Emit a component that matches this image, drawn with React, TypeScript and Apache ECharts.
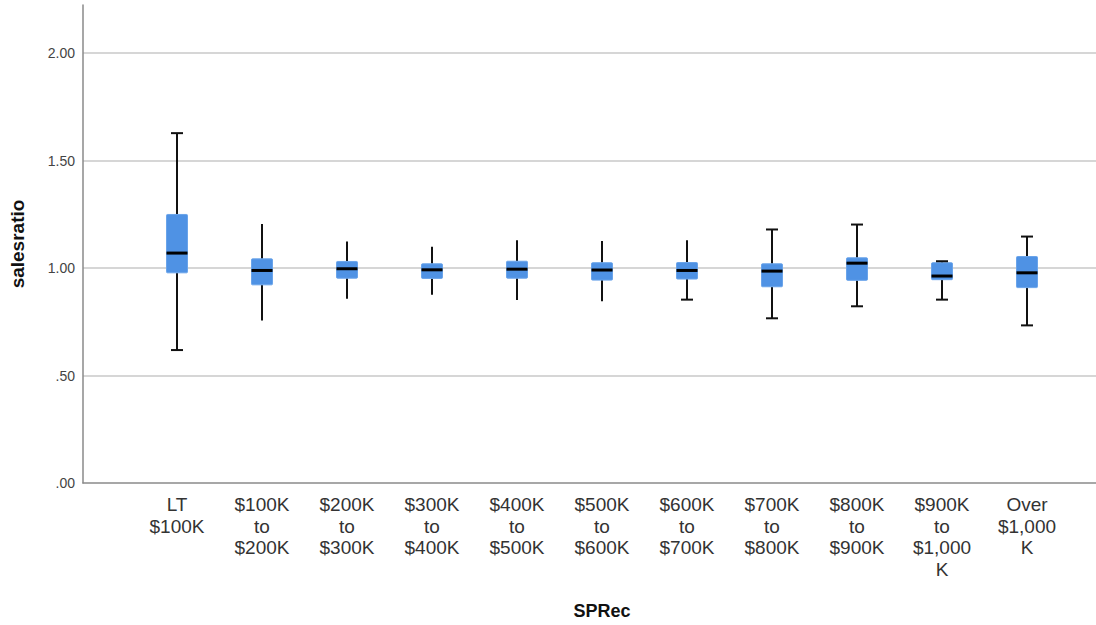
import React, { useEffect, useRef } from "react";
import * as echarts from "echarts";

const categories = [
  "LT\n$100K",
  "$100K\nto\n$200K",
  "$200K\nto\n$300K",
  "$300K\nto\n$400K",
  "$400K\nto\n$500K",
  "$500K\nto\n$600K",
  "$600K\nto\n$700K",
  "$700K\nto\n$800K",
  "$800K\nto\n$900K",
  "$900K\nto\n$1,000\nK",
  "Over\n$1,000\nK",
];
const whiskerLow = [0.615, 0.753, 0.854, 0.873, 0.848, 0.842, 0.85, 0.763, 0.819, 0.85, 0.73];
const q1 = [0.975, 0.919, 0.95, 0.949, 0.95, 0.941, 0.946, 0.91, 0.94, 0.943, 0.906];
const median = [1.067, 0.986, 0.994, 0.989, 0.992, 0.988, 0.986, 0.983, 1.02, 0.96, 0.975];
const q3 = [1.247, 1.04, 1.028, 1.017, 1.029, 1.022, 1.023, 1.017, 1.045, 1.022, 1.051];
const whiskerHigh = [1.626, 1.203, 1.121, 1.096, 1.127, 1.123, 1.127, 1.177, 1.2, 1.029, 1.144];
const capTop = [1, 0, 0, 0, 0, 0, 0, 1, 1, 1, 1];
const capBottom = [1, 0, 0, 0, 0, 0, 1, 1, 1, 1, 1];
const yMin = 0;
const yMax = 2.2233;
const yInterval = 0.5;

const FONT = "'Liberation Sans', Arial, sans-serif";

export default function App() {
  const ref = useRef<HTMLDivElement>(null);
  useEffect(() => {
    if (!ref.current) return;
    const chart = echarts.init(ref.current, null, { renderer: "svg" });
    const data = categories.map((_, i) => [
      i,
      whiskerLow[i],
      q1[i],
      median[i],
      q3[i],
      whiskerHigh[i],
      capTop[i],
      capBottom[i],
    ]);
    const lineStyle = { stroke: "#111", lineWidth: 2 };
    const boxW = 21;
    const capW = 12;
    chart.setOption({
      animation: false,
      backgroundColor: "#fff",
      textStyle: { fontFamily: FONT },
      grid: [
        { left: 83, right: 0, top: 5, bottom: 142 },
        { left: 134.5, width: 935, top: 5, bottom: 142 },
      ],
      xAxis: [
        {
          gridIndex: 0,
          type: "category",
          data: [""],
          axisLine: { show: true, lineStyle: { color: "#8a8a8a", width: 1.5 } },
          axisTick: { show: false },
          axisLabel: { show: false },
          splitLine: { show: false },
        },
        {
          gridIndex: 1,
          type: "category",
          data: categories,
          axisLine: { show: false },
          axisTick: { show: false },
          splitLine: { show: false },
          axisLabel: {
            interval: 0,
            fontSize: 19,
            lineHeight: 21.5,
            color: "#333",
            margin: 12,
            fontFamily: FONT,
          },
          name: "SPRec",
          nameLocation: "middle",
          nameGap: 120,
          nameTextStyle: { fontSize: 18, fontWeight: "bold", color: "#111", fontFamily: FONT },
        },
      ],
      yAxis: [
        {
          gridIndex: 0,
          type: "value",
          min: yMin,
          max: yMax,
          interval: yInterval,
          axisLine: { show: true, lineStyle: { color: "#8a8a8a", width: 1.5 } },
          axisTick: { show: false },
          axisLabel: {
            showMaxLabel: false,
            fontSize: 14,
            color: "#444",
            margin: 8,
            fontFamily: FONT,
            formatter: (v: number) => {
              const s = v.toFixed(2);
              return s.startsWith("0") ? s.slice(1) : s;
            },
          },
          splitLine: {
            show: true,
            showMaxLine: false,
            showMinLine: false,
            lineStyle: { color: "#c8c8c8", width: 1.5 },
          },
          name: "salesratio",
          nameLocation: "middle",
          nameRotate: 90,
          nameGap: 56,
          nameTextStyle: { fontSize: 19, fontWeight: "bold", color: "#111", fontFamily: FONT },
        },
        {
          gridIndex: 1,
          type: "value",
          min: yMin,
          max: yMax,
          show: false,
          splitLine: { show: false },
        },
      ],
      series: [
        {
          type: "custom",
          xAxisIndex: 1,
          yAxisIndex: 1,
          data,
          encode: { x: 0, y: [1, 2, 3, 4, 5] },
          renderItem: (params: any, api: any) => {
            const i = api.value(0);
            const x = api.coord([i, 0])[0];
            const y = (v: number) => api.coord([i, v])[1];
            const lo = y(api.value(1));
            const b1 = y(api.value(2));
            const md = y(api.value(3));
            const b3 = y(api.value(4));
            const hi = y(api.value(5));
            const children: any[] = [
              { type: "line", shape: { x1: x, y1: b3, x2: x, y2: hi }, style: lineStyle },
              { type: "line", shape: { x1: x, y1: b1, x2: x, y2: lo }, style: lineStyle },
              {
                type: "rect",
                shape: { x: x - boxW / 2, y: b3, width: boxW, height: b1 - b3, r: 1 },
                style: { fill: "#4f92e4", stroke: "#6aa4ea", lineWidth: 1 },
              },
              {
                type: "line",
                shape: { x1: x - boxW / 2, y1: md, x2: x + boxW / 2, y2: md },
                style: { stroke: "#000", lineWidth: 3 },
              },
            ];
            if (api.value(6)) {
              children.push({
                type: "line",
                shape: { x1: x - capW / 2, y1: hi, x2: x + capW / 2, y2: hi },
                style: lineStyle,
              });
            }
            if (api.value(7)) {
              children.push({
                type: "line",
                shape: { x1: x - capW / 2, y1: lo, x2: x + capW / 2, y2: lo },
                style: lineStyle,
              });
            }
            return { type: "group", children };
          },
        },
      ],
    });
    return () => chart.dispose();
  }, []);
  return (
    <div
      ref={ref}
      style={{ position: "fixed", left: 0, top: 0, width: 1096, height: 625 }}
    />
  );
}
